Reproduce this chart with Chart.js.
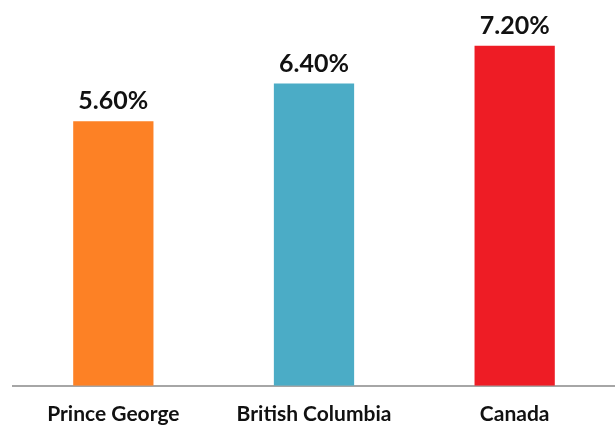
<!DOCTYPE html>
<html>
<head>
<meta charset="utf-8">
<script src="https://cdn.jsdelivr.net/npm/chart.js@4"></script>
<style>
  html, body { margin: 0; padding: 0; background: #fff; }
  #wrap { width: 615px; height: 427px; }
</style>
</head>
<body>
<div id="wrap"><canvas id="bar_rates"></canvas></div>
<script>
var categories = ["Prince George", "British Columbia", "Canada"];
var rates = [5.6, 6.4, 7.2];
var barColors = ['#fd8125', '#4bacc6', '#ee1c25'];

// draws "5.60%" above each bar
var valueLabels = {
    id: 'valueLabels',
    afterDatasetsDraw: function(chart) {
        var ctx = chart.ctx;
        var meta = chart.getDatasetMeta(0);
        ctx.save();
        ctx.font = 'bold 25px Lato';
        ctx.fillStyle = '#111';
        ctx.textAlign = 'center';
        ctx.textBaseline = 'middle';
        meta.data.forEach(function(bar, i) {
            ctx.fillText(rates[i].toFixed(2) + '%', bar.x, bar.y - 20);
        });
        ctx.restore();
    }
};

var ctx = document.getElementById("bar_rates").getContext('2d');
var myChart = new Chart(ctx, {
    type: 'bar',
    data: {
        labels: categories,
        datasets: [{
            data: rates,
            backgroundColor: barColors,
            borderWidth: 0,
            barPercentage: 1,
            categoryPercentage: 0.4
        }]
    },
    options: {
        responsive: true,
        maintainAspectRatio: false,
        animation: false,
        layout: { padding: { left: 13, right: 0, top: 8, bottom: -16 } },
        plugins: {
            legend: { display: false },
            tooltip: { enabled: false }
        },
        scales: {
            x: {
                grid: { display: false, drawTicks: false },
                border: { display: true, color: '#a6a6a6', width: 2 },
                ticks: {
                    padding: 16,
                    color: '#111',
                    font: { family: 'Lato', size: 21, weight: 'bold' }
                }
            },
            y: {
                display: false,
                min: 0,
                max: 8
            }
        }
    },
    plugins: [valueLabels]
});
</script>
</body>
</html>
